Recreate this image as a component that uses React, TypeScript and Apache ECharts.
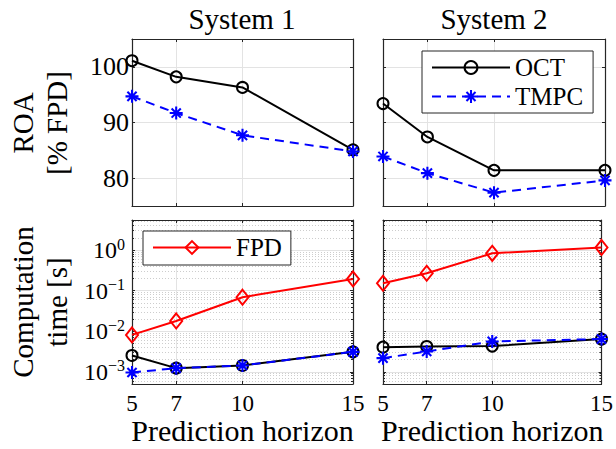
import React, { useEffect, useRef } from "react";
import * as echarts from "echarts";

// ---- data ----
const horizons = [5, 7, 10, 15];
const horizonTicks = [5, 7, 10, 15];
const roaTicks = [80, 90, 100];
const timeTicks = [0.001, 0.01, 0.1, 1];

const roaOct1 = [101.1, 98.2, 96.3, 85.1];
const roaTmpc1 = [94.7, 91.7, 87.7, 84.8];
const roaOct2 = [93.4, 87.4, 81.4, 81.4];
const roaTmpc2 = [83.9, 80.9, 77.4, 79.6];

const timeFpd1 = [0.0081, 0.0179, 0.0689, 0.194];
const timeOct1 = [0.00252, 0.00123, 0.00143, 0.0031];
const timeTmpc1 = [0.00096, 0.00123, 0.00143, 0.0031];
const timeFpd2 = [0.152, 0.268, 0.83, 1.16];
const timeOct2 = [0.00405, 0.0042, 0.0043, 0.0064];
const timeTmpc2 = [0.00217, 0.00316, 0.0056, 0.0064];

// ---- styles ----
const FONT = "serif";
const AX = "#262626";
const GRID = "#e3e3e3";
const MINOR = "#cdcdcd";
const TIME_MIN = 5e-4;
const TIME_MAX = 5.5;

const minorTimeTicks: number[] = [];
for (let e = -4; e <= 0; e++) {
  for (let m = 2; m <= 9; m++) {
    const v = Number((m * Math.pow(10, e)).toPrecision(3));
    if (v >= TIME_MIN && v <= TIME_MAX) minorTimeTicks.push(v);
  }
}

const ASTERISK =
  "path://M-1.6,-10L1.6,-10L1.6,10L-1.6,10Z M-10,-1.6L10,-1.6L10,1.6L-10,1.6Z M-5.94,-8.2L8.2,5.94L5.94,8.2L-8.2,-5.94Z M-8.2,5.94L5.94,-8.2L8.2,-5.94L-5.94,8.2Z";

const grids = [
  { left: 132, top: 39, width: 221, height: 167 },
  { left: 383, top: 39, width: 222, height: 167 },
  { left: 132, top: 220, width: 221, height: 164 },
  { left: 383, top: 220, width: 222, height: 164 },
];

const axisLine = { show: true, onZero: false, lineStyle: { color: AX, width: 1.2 } };

function xMain(g: number, labels: boolean) {
  return {
    type: "value",
    gridIndex: g,
    min: 5,
    max: 15,
    position: "bottom",
    axisLine,
    axisTick: { show: true, inside: true, length: 3, customValues: horizonTicks, lineStyle: { color: AX } },
    axisLabel: {
      show: labels,
      customValues: horizonTicks,
      margin: 8,
      fontFamily: FONT,
      fontSize: 23,
      color: "#000",
    },
    splitLine: { show: true, lineStyle: { color: GRID, width: 1 } },
    name: labels ? "Prediction horizon" : "",
    nameLocation: "middle",
    nameGap: 30,
    nameTextStyle: { fontFamily: FONT, fontSize: 30, color: "#000" },
  };
}
function xTop(g: number) {
  return {
    type: "value",
    gridIndex: g,
    min: 5,
    max: 15,
    position: "top",
    axisLine,
    axisTick: { show: true, inside: true, length: 3, customValues: horizonTicks, lineStyle: { color: AX } },
    axisLabel: { show: false, customValues: horizonTicks },
    splitLine: { show: false },
  };
}
function yRoa(g: number, pos: string, labels: boolean) {
  return {
    type: "value",
    gridIndex: g,
    min: 75,
    max: 105,
    position: pos,
    axisLine,
    axisTick: { show: true, inside: true, length: 3, customValues: roaTicks, lineStyle: { color: AX } },
    axisLabel: {
      show: labels,
      customValues: roaTicks,
      margin: 3,
      fontFamily: FONT,
      fontSize: 26,
      color: "#000",
    },
    splitLine: { show: pos === "left", lineStyle: { color: GRID, width: 1 } },
  };
}
function expLabel(v: number) {
  const e = Math.round(Math.log10(v));
  const s = e < 0 ? "\u2212" + String(-e) : String(e);
  return "{b|10}{s|" + s + "}";
}
function yTime(g: number, pos: string, labels: boolean) {
  return {
    type: "log",
    logBase: 10,
    gridIndex: g,
    min: TIME_MIN,
    max: TIME_MAX,
    position: pos,
    axisLine,
    axisTick: { show: true, inside: true, length: 3, customValues: timeTicks, lineStyle: { color: AX } },
    axisLabel: {
      show: labels,
      customValues: timeTicks,
      margin: 7,
      fontFamily: FONT,
      formatter: expLabel,
      rich: {
        b: { fontFamily: FONT, fontSize: 24, lineHeight: 28, color: "#000" },
        s: { fontFamily: FONT, fontSize: 16, lineHeight: 16, verticalAlign: "top", color: "#000" },
      },
    },
    splitLine: { show: pos === "left", lineStyle: { color: GRID, width: 1 } },
  };
}
function yTimeMinor(g: number, pos: string) {
  return {
    type: "log",
    logBase: 10,
    gridIndex: g,
    min: TIME_MIN,
    max: TIME_MAX,
    position: pos,
    axisLine: { show: false },
    axisTick: { show: true, inside: true, length: 2, customValues: minorTimeTicks, lineStyle: { color: AX } },
    axisLabel: { show: false, customValues: minorTimeTicks },
    splitLine: { show: pos === "left", lineStyle: { color: MINOR, width: 1, type: [1, 2] } },
  };
}

const pairs = (ys: number[]) => horizons.map((x, i) => [x, ys[i]]);

function octSeries(xi: number, yi: number, ys: number[]) {
  return {
    name: "OCT",
    type: "line",
    xAxisIndex: xi,
    yAxisIndex: yi,
    data: pairs(ys),
    clip: false,
    symbol: "circle",
    symbolSize: 11,
    lineStyle: { color: "#000", width: 2 },
    itemStyle: { color: "rgba(0,0,0,0)", borderColor: "#000", borderWidth: 2 },
    emphasis: { disabled: true },
    z: 3,
  };
}
function tmpcSeries(xi: number, yi: number, ys: number[]) {
  return {
    name: "TMPC",
    type: "line",
    xAxisIndex: xi,
    yAxisIndex: yi,
    data: pairs(ys),
    clip: false,
    symbol: ASTERISK,
    symbolSize: 13,
    lineStyle: { color: "#0000ff", width: 2, type: [9, 6] },
    itemStyle: { color: "#0000ff" },
    emphasis: { disabled: true },
    z: 4,
  };
}
function fpdSeries(xi: number, yi: number, ys: number[]) {
  return {
    name: "FPD",
    type: "line",
    xAxisIndex: xi,
    yAxisIndex: yi,
    data: pairs(ys),
    clip: false,
    symbol: "diamond",
    symbolSize: [12, 15],
    lineStyle: { color: "#ff0000", width: 2 },
    itemStyle: { color: "rgba(0,0,0,0)", borderColor: "#ff0000", borderWidth: 2 },
    emphasis: { disabled: true },
    z: 3,
  };
}

export default function App() {
  const ref = useRef<HTMLDivElement>(null);
  useEffect(() => {
    if (!ref.current) return;
    const chart = echarts.init(ref.current, null, { renderer: "svg" });
    const option: any = {
      animation: false,
      backgroundColor: "#fff",
      textStyle: { fontFamily: FONT },
      title: [
        {
          text: "System 1",
          left: 242,
          top: 4,
          textAlign: "center",
          padding: 0,
          textStyle: { fontFamily: FONT, fontSize: 29, fontWeight: "normal", color: "#000" },
        },
        {
          text: "System 2",
          left: 494,
          top: 4,
          textAlign: "center",
          padding: 0,
          textStyle: { fontFamily: FONT, fontSize: 29, fontWeight: "normal", color: "#000" },
        },
      ],
      legend: [
        {
          data: ["OCT", "TMPC"],
          orient: "vertical",
          left: 422,
          top: 51,
          padding: [2, 10, 2, 9],
          itemWidth: 78,
          itemHeight: 16,
          itemGap: 0,
          selectedMode: false,
          backgroundColor: "#fff",
          borderColor: AX,
          borderWidth: 1,
          textStyle: { fontFamily: FONT, fontSize: 25, lineHeight: 29, color: "#000" },
        },
        {
          data: ["FPD"],
          orient: "vertical",
          left: 143,
          top: 231,
          padding: [2, 9, 3, 9],
          itemWidth: 78,
          itemHeight: 16,
          itemGap: 0,
          selectedMode: false,
          backgroundColor: "#fff",
          borderColor: AX,
          borderWidth: 1,
          textStyle: { fontFamily: FONT, fontSize: 25, lineHeight: 29, color: "#000" },
        },
      ],
      grid: grids.map((g) => ({ ...g, containLabel: false })),
      xAxis: [xMain(0, false), xTop(0), xMain(1, false), xTop(1), xMain(2, true), xTop(2), xMain(3, true), xTop(3)],
      yAxis: [
        yRoa(0, "left", true),
        yRoa(0, "right", false),
        yRoa(1, "left", false),
        yRoa(1, "right", false),
        yTime(2, "left", true),
        yTime(2, "right", false),
        yTimeMinor(2, "left"),
        yTimeMinor(2, "right"),
        yTime(3, "left", false),
        yTime(3, "right", false),
        yTimeMinor(3, "left"),
        yTimeMinor(3, "right"),
      ],
      series: [
        octSeries(0, 0, roaOct1),
        tmpcSeries(0, 0, roaTmpc1),
        octSeries(2, 2, roaOct2),
        tmpcSeries(2, 2, roaTmpc2),
        fpdSeries(4, 4, timeFpd1),
        octSeries(4, 4, timeOct1),
        tmpcSeries(4, 4, timeTmpc1),
        fpdSeries(6, 8, timeFpd2),
        octSeries(6, 8, timeOct2),
        tmpcSeries(6, 8, timeTmpc2),
      ],
      graphic: [
        {
          type: "text",
          x: 40,
          y: 123,
          rotation: Math.PI / 2,
          style: {
            text: "ROA\n[% FPD]",
            align: "center",
            verticalAlign: "middle",
            fontFamily: FONT,
            fontSize: 29,
            lineHeight: 34,
            fill: "#000",
          },
        },
        {
          type: "text",
          x: 40,
          y: 302,
          rotation: Math.PI / 2,
          style: {
            text: "Computation\ntime [s]",
            align: "center",
            verticalAlign: "middle",
            fontFamily: FONT,
            fontSize: 29,
            lineHeight: 34,
            fill: "#000",
          },
        },
      ],
    };
    chart.setOption(option);
    return () => chart.dispose();
  }, []);
  return (
    <div
      ref={ref}
      style={{ position: "fixed", left: 0, top: 0, width: 616, height: 449, background: "#fff" }}
    />
  );
}
